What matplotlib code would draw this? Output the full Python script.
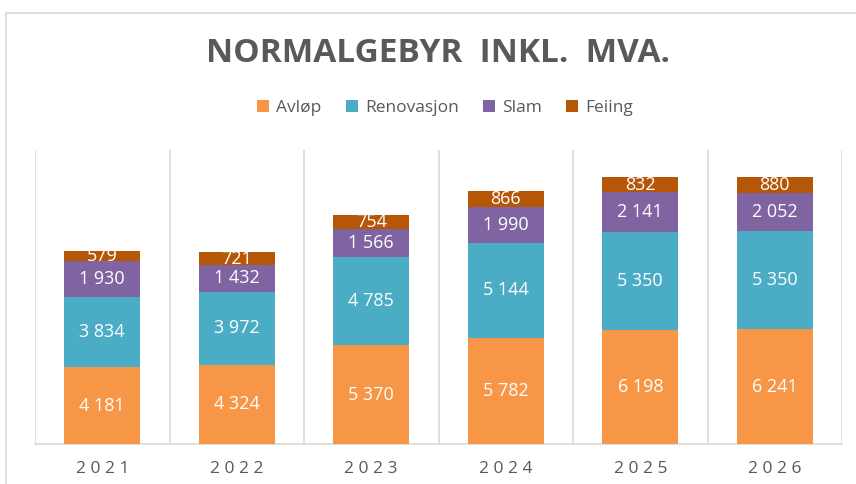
import matplotlib
matplotlib.use("Agg")
import matplotlib.pyplot as plt
from matplotlib.patches import Rectangle
import numpy as np

## data
years = [2021, 2022, 2023, 2024, 2025, 2026]
avlop      = [4181, 4324, 5370, 5782, 6198, 6241]
renovasjon = [3834, 3972, 4785, 5144, 5350, 5350]
slam       = [1930, 1432, 1566, 1990, 2141, 2052]
feiing     = [579, 721, 754, 866, 832, 880]

series = [("Avløp", avlop), ("Renovasjon", renovasjon), ("Slam", slam), ("Feiing", feiing)]

# plot parameters
colors = ["#F79646", "#4BACC6", "#8064A2", "#B65708"]
gridColor = "#D9D9D9"
textGrey = "#595959"
fontName = "Open Sans"

def fmt(v):
	return "{:,}".format(v).replace(",", " ")

fig = plt.figure(figsize=(8.56, 4.84), dpi=100)
fig.set_facecolor("white")
# outer frame of the pasted chart (only left and top edges visible)
fig.add_artist(Rectangle((6/856, -0.1), 1.2, 1 - 13/484 + 0.1, transform=fig.transFigure,
                         fill=False, edgecolor=gridColor, linewidth=1.2))

ax = fig.add_axes([35/856, 40/484, 807/856, 294/484])
x = np.arange(len(years))
bottom = np.zeros(len(years))
for (name, vals), col in zip(series, colors):
	vals = np.array(vals)
	ax.bar(x, vals, bottom=bottom, width=0.565, color=col, label=name, zorder=3)
	for xi, b, v in zip(x, bottom, vals):
		ax.text(xi, b + v/2, fmt(v), ha="center", va="center", color="white",
		        fontsize=13, family=fontName, zorder=4)
	bottom += vals

ax.set_xlim(-0.5, len(years) - 0.5)
ax.set_ylim(0, 16000)
ax.set_yticks([])
for b in np.arange(-0.5, len(years), 1.0):
	ax.axvline(b, color=gridColor, linewidth=1.2, zorder=1)
for s in ["top", "left", "right"]:
	ax.spines[s].set_visible(False)
ax.spines["bottom"].set_color(gridColor)
ax.spines["bottom"].set_linewidth(1.2)
ax.set_xticks(x)
ax.set_xticklabels([" ".join(str(y)) for y in years], fontsize=12.5, color=textGrey, family=fontName)
ax.tick_params(axis="x", length=0, pad=12)

fig.text(438/856, 1 - 54/484, "NORMALGEBYR  INKL.  MVA.", ha="center", va="center",
         fontsize=24, fontweight="bold", color=textGrey, family=fontName)
leg = fig.legend(loc="center", bbox_to_anchor=(445/856, 1 - 108/484), ncol=4, frameon=False,
                 handlelength=0.7, handleheight=0.7, handletextpad=0.4, columnspacing=1.4,
                 prop={"family": fontName, "size": 12.5})
for t in leg.get_texts():
	t.set_color(textGrey)

fig.savefig("out.png", dpi=100)
